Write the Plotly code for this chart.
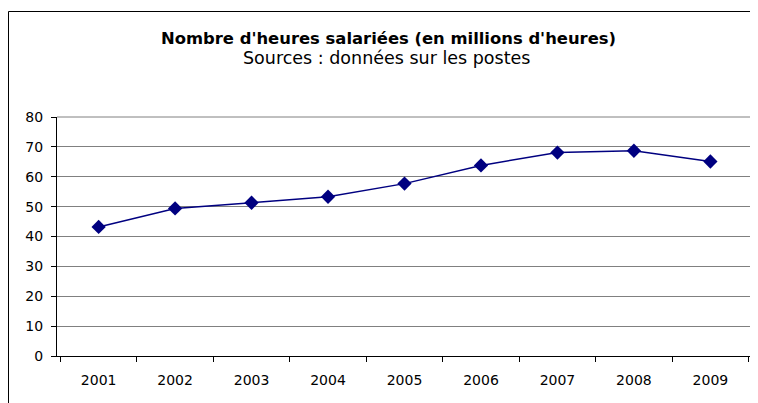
import plotly.graph_objects as go

years = ["2001", "2002", "2003", "2004", "2005", "2006", "2007", "2008", "2009"]
heures = [43.2, 49.4, 51.3, 53.3, 57.7, 63.8, 68.1, 68.7, 65.1]
y_ticks = [0, 10, 20, 30, 40, 50, 60, 70, 80]

title_text = "Nombre d'heures salariées (en millions d'heures)"
subtitle_text = "Sources : données sur les postes"

# the page body adds an 8px margin, so the figure is drawn 8px smaller
OFF = 8
W, H = 758 - OFF, 403 - OFF
L, R, T, B = 57 - OFF, 6, 117 - OFF, 47
pw, ph = W - L - R, H - T - B


def px(x):
    return (x - OFF - L) / pw


def py(y):
    return (H - B - (y - OFF)) / ph


fig = go.Figure()
fig.add_trace(go.Scatter(
    x=years, y=heures, mode="lines+markers",
    line=dict(color="#000080", width=1.5),
    marker=dict(symbol="diamond", size=11, color="#000080"),
    showlegend=False, hoverinfo="x+y",
))

font = "DejaVu Sans, Arial, sans-serif"
fig.update_layout(
    width=W, height=H,
    margin=dict(l=L, r=R, t=T, b=B),
    paper_bgcolor="white", plot_bgcolor="white",
    font=dict(family=font, size=14, color="black"),
    xaxis=dict(
        type="category", tickson="boundaries", ticks="outside", ticklen=5,
        tickcolor="black", showline=True, linecolor="black", linewidth=1,
        showgrid=False, ticklabelstandoff=11, tickfont=dict(size=14),
    ),
    yaxis=dict(
        range=[0, 80], tickvals=y_ticks, ticks="outside", ticklen=5,
        tickcolor="black", showline=True, linecolor="black", linewidth=1,
        showgrid=True, gridcolor="#808080", gridwidth=1, zeroline=False,
        ticklabelstandoff=5, tickfont=dict(size=14),
    ),
    annotations=[
        dict(text="<b>" + title_text + "</b>", xref="paper", yref="paper",
             x=px(388), y=py(38), xanchor="center", yanchor="middle",
             showarrow=False, font=dict(size=16.4, family=font)),
        dict(text=subtitle_text, xref="paper", yref="paper",
             x=px(386), y=py(58), xanchor="center", yanchor="middle",
             showarrow=False, font=dict(size=17.5, family=font)),
    ],
    shapes=[
        # top and right border of plot area
        dict(type="line", xref="paper", yref="paper", x0=0, x1=1, y0=1, y1=1,
             line=dict(color="#808080", width=1)),
        dict(type="line", xref="paper", yref="paper", x0=1, x1=1, y0=0, y1=1,
             line=dict(color="#808080", width=1)),
        # outer chart frame (left and top)
        dict(type="line", xref="paper", yref="paper", x0=px(8.5), x1=px(8.5),
             y0=py(11.5), y1=py(420), line=dict(color="black", width=1)),
        dict(type="line", xref="paper", yref="paper", x0=px(8.5), x1=px(770),
             y0=py(11.5), y1=py(11.5), line=dict(color="black", width=1)),
    ],
)

fig.write_html("out.html")
